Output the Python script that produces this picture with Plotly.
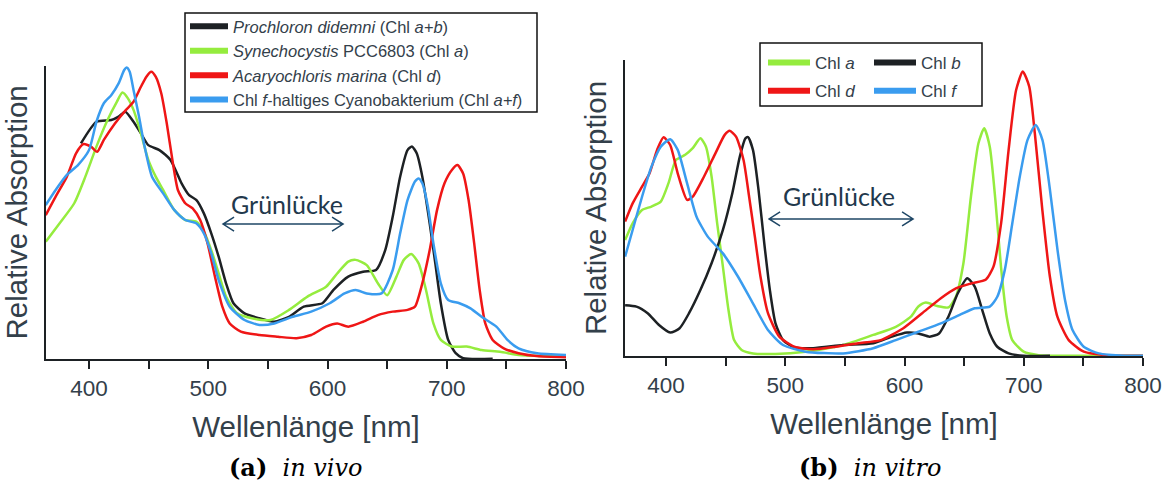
import plotly.graph_objects as go

# ---------------- data: (a) in vivo ----------------
prochloron_nm = [393.2, 406.2, 418.6, 424.8, 430.4, 437.3, 443.5, 449.7, 459.0, 468.3, 477.6, 483.9, 490.1, 496.3,
                 502.5, 508.7, 514.9, 521.1, 530.4, 542.9, 555.3, 567.7, 580.1, 595.7, 605.0, 617.4, 629.8, 640.7,
                 648.4, 654.7, 660.9, 667.1, 670.8, 674.8, 679.5, 685.7, 690.4, 695.0, 701.2, 707.5, 713.7, 738.5]
prochloron_abs = [74.6, 82.1, 82.7, 83.9, 85.6, 82.1, 78.1, 74.0, 72.3, 68.9, 60.8, 56.7, 55.0, 50.4,
                  43.5, 35.4, 26.2, 19.3, 15.8, 14.1, 12.9, 14.6, 18.1, 19.3, 23.9, 28.5, 30.2, 30.8,
                  37.7, 49.3, 63.1, 72.3, 73.5, 71.2, 63.1, 46.9, 33.1, 19.3, 6.6, 2.0, 0.3, 0.1]

synecho_nm = [363.7, 375.2, 387.6, 396.9, 406.2, 415.5, 423.3, 428.0, 432.6, 437.3, 443.5, 449.7, 455.9, 462.1,
              471.4, 480.7, 490.1, 496.3, 502.5, 508.7, 514.9, 524.2, 536.6, 552.2, 567.7, 583.2, 598.8, 608.1,
              617.4, 623.6, 632.9, 642.2, 650.0, 657.8, 664.0, 670.2, 676.4, 682.6, 688.8, 695.0, 704.3, 716.8,
              729.2, 744.7, 760.2, 778.9, 800.0]
synecho_abs = [40.6, 46.9, 53.9, 63.1, 73.5, 82.7, 89.0, 92.2, 90.2, 86.2, 78.1, 68.9, 63.1, 58.5,
               51.6, 48.1, 47.5, 44.1, 37.7, 29.6, 21.6, 15.8, 14.1, 13.5, 17.0, 21.6, 25.0, 29.6,
               33.7, 34.3, 32.5, 26.2, 22.1, 28.5, 34.3, 36.3, 33.1, 23.9, 12.3, 6.6, 4.3, 4.3,
               3.1, 2.5, 1.4, 1.0, 0.8]

acaryo_nm = [363.7, 372.0, 381.4, 389.1, 395.3, 401.6, 406.8, 412.4, 421.7, 431.0, 437.3, 443.5, 448.1, 452.2,
             455.9, 460.6, 465.2, 469.9, 474.5, 480.7, 486.9, 493.2, 499.4, 505.6, 511.8, 518.0, 527.3, 542.9,
             558.4, 574.0, 586.3, 598.8, 608.1, 617.4, 629.8, 642.2, 654.7, 667.1, 673.3, 679.5, 685.7, 691.9,
             698.1, 704.3, 709.0, 713.7, 718.3, 723.0, 727.6, 732.3, 738.5, 747.8, 760.2, 775.8, 800.0]
acaryo_abs = [49.8, 56.2, 63.1, 71.2, 74.4, 73.5, 71.7, 75.8, 81.5, 86.2, 89.0, 94.2, 97.7, 99.4,
              97.7, 91.9, 81.5, 68.9, 58.5, 53.9, 52.1, 48.1, 40.0, 28.5, 18.1, 12.3, 9.5, 8.3,
              7.7, 7.2, 8.3, 11.2, 12.3, 11.2, 12.9, 15.2, 16.4, 17.0, 18.1, 26.2, 37.7, 51.6,
              60.8, 65.4, 67.1, 64.2, 55.0, 40.0, 23.9, 12.3, 6.6, 3.7, 2.0, 1.0, 0.6]

chlf_bact_nm = [363.7, 372.0, 381.4, 390.7, 400.0, 406.2, 412.4, 418.6, 424.8, 429.5, 431.6, 434.1, 437.3, 441.9,
                446.6, 452.8, 462.1, 471.4, 480.7, 490.1, 496.3, 502.5, 508.7, 518.0, 530.4, 542.9, 555.3, 570.8,
                586.3, 601.9, 614.3, 623.6, 632.9, 645.3, 654.7, 660.9, 667.1, 673.3, 676.4, 679.5, 684.2, 688.8,
                695.0, 701.2, 710.6, 719.9, 729.2, 741.6, 750.9, 760.2, 775.8, 800.0]
chlf_bact_abs = [53.3, 58.5, 63.7, 67.1, 72.3, 82.1, 88.5, 91.3, 95.4, 100.0, 100.9, 99.4, 93.1, 83.9,
                 73.5, 63.1, 57.3, 51.6, 48.1, 46.9, 43.5, 36.6, 27.3, 18.1, 13.5, 11.8, 12.3, 14.6,
                 16.4, 19.3, 22.7, 23.9, 22.7, 22.7, 30.8, 43.5, 55.0, 61.4, 62.5, 60.8, 52.7, 40.0,
                 26.2, 20.4, 19.3, 17.5, 14.6, 11.2, 6.6, 3.7, 2.0, 1.4]

# ---------------- data: (b) in vitro ----------------
chla_nm = [365.7, 372.0, 379.9, 387.8, 395.6, 402.0, 408.3, 416.1, 422.4, 428.8, 433.5, 438.2, 442.9, 447.7,
           452.4, 457.1, 463.4, 472.9, 491.8, 517.0, 548.5, 573.8, 592.7, 605.3, 611.6, 617.9, 627.4, 636.8,
           643.1, 649.4, 655.7, 662.0, 666.8, 671.5, 676.2, 680.9, 685.7, 690.4, 699.9, 712.5, 737.7, 800.0]
chla_abs = [40.1, 45.9, 50.5, 51.7, 53.4, 59.7, 67.8, 69.6, 71.9, 75.3, 72.4, 62.1, 45.9, 30.9,
            15.9, 5.5, 2.1, 0.9, 0.7, 1.5, 3.8, 7.3, 10.1, 13.6, 17.1, 18.5, 17.3, 16.8,
            20.5, 32.1, 55.1, 73.6, 78.8, 72.4, 54.0, 30.9, 13.6, 5.5, 1.5, 0.3, 0.1, 0.1]

chlb_nm = [365.7, 375.2, 384.6, 394.1, 403.5, 411.4, 419.3, 428.8, 438.2, 447.7, 455.6, 461.9, 466.6, 468.8,
           472.9, 477.6, 482.4, 487.1, 491.8, 498.1, 507.6, 523.4, 548.5, 573.8, 589.5, 602.1, 611.6, 621.1,
           629.0, 636.8, 644.7, 652.6, 658.9, 665.2, 671.5, 677.8, 687.3, 699.9, 722.0]
chlb_abs = [17.6, 17.1, 14.8, 10.7, 8.1, 9.6, 14.8, 22.8, 32.1, 43.6, 56.3, 69.0, 75.3, 75.7,
            71.3, 57.4, 39.0, 22.8, 11.3, 5.5, 3.0, 2.7, 3.8, 4.4, 6.7, 8.1, 7.8, 6.7,
            7.8, 13.6, 21.7, 26.9, 24.0, 15.9, 7.8, 3.2, 0.9, 0.1, 0.1]

chld_nm = [365.7, 372.0, 379.9, 386.2, 392.5, 397.9, 403.5, 409.8, 417.7, 422.4, 431.9, 441.4, 449.2, 453.4,
           458.7, 465.0, 469.7, 474.5, 479.2, 485.5, 495.0, 507.6, 523.4, 542.3, 561.2, 580.1, 599.0, 614.8,
           630.5, 643.1, 655.7, 668.3, 674.6, 681.0, 687.3, 693.6, 699.2, 704.6, 709.3, 715.6, 721.9, 728.2,
           737.7, 750.3, 769.2, 800.0]
chld_abs = [46.5, 52.8, 58.6, 63.2, 71.3, 75.7, 73.0, 63.2, 54.0, 55.1, 62.1, 70.1, 76.5, 77.9,
            75.9, 67.8, 55.1, 41.3, 27.5, 14.8, 6.7, 3.2, 2.3, 3.2, 4.4, 5.5, 9.6, 14.8,
            20.0, 23.4, 25.1, 26.5, 30.9, 45.9, 71.3, 92.0, 98.4, 93.2, 77.0, 50.5, 27.5, 13.6,
            5.5, 1.5, 0.3, 0.1]

chlf_nm = [365.7, 372.0, 379.9, 387.8, 395.6, 403.5, 409.8, 417.7, 425.6, 435.0, 447.7, 460.3, 472.9, 485.5,
           498.1, 517.0, 548.5, 573.8, 592.7, 611.6, 630.5, 646.3, 658.9, 671.5, 677.8, 684.1, 690.4, 696.7,
           703.1, 710.0, 715.7, 722.0, 728.3, 734.6, 740.9, 750.3, 762.9, 785.0, 800.0]
chlf_abs = [34.4, 43.6, 55.1, 65.5, 72.4, 75.0, 71.3, 59.7, 48.2, 41.3, 35.5, 27.5, 18.2, 9.0,
            3.8, 1.5, 0.9, 2.7, 5.5, 8.4, 11.3, 14.2, 16.5, 17.1, 20.5, 29.8, 45.9, 62.1,
            74.7, 79.9, 74.7, 57.4, 36.7, 19.4, 9.0, 3.2, 0.9, 0.1, 0.1]

tick_vals = [400, 450, 500, 550, 600, 650, 700, 750, 800]
tick_text = ["400", "", "500", "", "600", "", "700", "", "800"]

names_a = ["<i>Prochloron didemni</i> (Chl <i>a+b</i>)",
           "<i>Synechocystis</i> PCC6803 (Chl <i>a</i>)",
           "<i>Acaryochloris marina</i> (Chl <i>d</i>)",
           "Chl <i>f</i>-haltiges Cyanobakterium (Chl <i>a+f</i>)"]
names_b = ["Chl <i>a</i>", "Chl <i>b</i>", "Chl <i>d</i>", "Chl <i>f</i>"]

BLACK = "#1d2124"
GREEN = "#95ec3e"
RED = "#ef1616"
BLUE = "#3a9cef"
TXT = "#33404a"

W, H = 1169, 486
fig = go.Figure()

series_a = [(prochloron_nm, prochloron_abs, BLACK), (synecho_nm, synecho_abs, GREEN),
            (acaryo_nm, acaryo_abs, RED), (chlf_bact_nm, chlf_bact_abs, BLUE)]
for i, (x, y, c) in enumerate(series_a):
    fig.add_trace(go.Scatter(x=x, y=y, mode="lines", line=dict(color=c, width=2.5, shape="spline", smoothing=0.6),
                             xaxis="x", yaxis="y", showlegend=False, hoverinfo="skip"))
for i, (x, y, c) in enumerate(series_a):
    fig.add_trace(go.Scatter(x=[None], y=[None], mode="lines", line=dict(color=c, width=6),
                             name=names_a[i], legend="legend", legendgroup="a%d" % i,
                             xaxis="x", yaxis="y"))

series_b = [(chla_nm, chla_abs, GREEN), (chlb_nm, chlb_abs, BLACK),
            (chld_nm, chld_abs, RED), (chlf_nm, chlf_abs, BLUE)]
for i, (x, y, c) in enumerate(series_b):
    fig.add_trace(go.Scatter(x=x, y=y, mode="lines", line=dict(color=c, width=2.5, shape="spline", smoothing=0.6),
                             xaxis="x2", yaxis="y2", showlegend=False, hoverinfo="skip"))
legend_cols = ["legend2", "legend3", "legend2", "legend3"]
for i, (x, y, c) in enumerate(series_b):
    fig.add_trace(go.Scatter(x=[None], y=[None], mode="lines", line=dict(color=c, width=6),
                             name=names_b[i], legend=legend_cols[i], legendgroup="b%d" % i,
                             xaxis="x2", yaxis="y2"))

axis_font = dict(family="Liberation Sans, Arial", size=22.5, color=TXT)
title_font = dict(family="Liberation Sans, Arial", size=29.5, color=TXT)

def xax(domain, rng, anchor):
    return dict(domain=domain, range=rng, anchor=anchor, automargin=False,
                showline=True, linecolor=BLACK, linewidth=2,
                ticks="outside", ticklen=8, tickwidth=2, tickcolor=BLACK, tickmode="array",
                tickvals=tick_vals, ticktext=tick_text, tickfont=axis_font, ticklabelstandoff=0,
                showgrid=False, zeroline=False,
                title=dict(text="Wellenlänge [nm]", font=title_font, standoff=16))

def yax(domain, rng, anchor, standoff):
    return dict(domain=domain, range=rng, anchor=anchor, automargin=False,
                showline=True, linecolor=BLACK, linewidth=2,
                ticks="", showticklabels=False, showgrid=False, zeroline=False,
                title=dict(text="Relative Absorption", font=title_font, standoff=standoff))

legend_font_a = dict(family="Liberation Sans, Arial", size=16.5, color=TXT)
legend_font_b = dict(family="Liberation Sans, Arial", size=17, color=TXT)
fig.update_layout(
    template="none",
    width=W, height=H, margin=dict(l=0, r=0, t=0, b=0, pad=0),
    paper_bgcolor="white", plot_bgcolor="white",
    xaxis=xax([46 / W, 566 / W], [363.9, 800], "y"),
    yaxis=yax([1 - 359 / H, 1 - 65.7 / H], [0, 101.5], "x", 12),
    xaxis2=xax([625 / W, 1143 / W], [365.6, 800], "y2"),
    yaxis2=yax([1 - 356 / H, 1 - 60 / H], [0, 102.4], "x2", 8),
    legend=dict(x=185 / W, y=1 - 9 / H, xanchor="left", yanchor="top", bgcolor="rgba(0,0,0,0)",
                borderwidth=0, tracegroupgap=0, itemwidth=38, font=legend_font_a),
    legend2=dict(x=763 / W, y=1 - 45 / H, xanchor="left", yanchor="top", bgcolor="rgba(0,0,0,0)",
                 borderwidth=0, tracegroupgap=3, itemwidth=42, font=legend_font_b),
    legend3=dict(x=869 / W, y=1 - 45 / H, xanchor="left", yanchor="top", bgcolor="rgba(0,0,0,0)",
                 borderwidth=0, tracegroupgap=3, itemwidth=42, font=legend_font_b),
    showlegend=True,
)

# boxes around the legends
fig.add_shape(type="rect", xref="paper", yref="paper", x0=185 / W, x1=537 / W, y0=1 - 112 / H, y1=1 - 13 / H,
              line=dict(color="#111111", width=1.5), fillcolor="white", layer="above")
fig.add_shape(type="rect", xref="paper", yref="paper", x0=760 / W, x1=982 / W, y0=1 - 106 / H, y1=1 - 43 / H,
              line=dict(color="#111111", width=1.5), fillcolor="rgba(0,0,0,0)", layer="above")

# Grünlücke double arrows
gap_a = dict(x=562.7, y=46.7, half=60)
gap_b = dict(x=546.8, y=47.4, half=72)
ARROW = "#1f4766"
for g, xr, yr in [(gap_a, "x", "y"), (gap_b, "x2", "y2")]:
    h = g["half"]
    path = (f"M{-h},0 L{h},0 M{-h + 11},7 L{-h},0 L{-h + 11},-7 "
            f"M{h - 11},7 L{h},0 L{h - 11},-7")
    fig.add_shape(type="path", xref=xr, yref=yr, xsizemode="pixel", ysizemode="pixel",
                  xanchor=g["x"], yanchor=g["y"], path=path, line=dict(color=ARROW, width=1.5))

gap_font = dict(family="Lato, Open Sans", size=25, color="#22384c")
fig.add_annotation(text="Grünlücke", xref="paper", yref="paper", x=287 / W, y=1 - 204 / H,
                   xanchor="center", yanchor="middle", showarrow=False, font=gap_font)
fig.add_annotation(text="Grünlücke", xref="paper", yref="paper", x=839 / W, y=1 - 196 / H,
                   xanchor="center", yanchor="middle", showarrow=False, font=gap_font)

cap_font = dict(family="DejaVu Serif, Liberation Serif", size=24, color="black")
fig.add_annotation(text="<b>(a)</b>  <i>in vivo</i>", xref="paper", yref="paper", x=296 / W, y=1 - 467 / H,
                   xanchor="center", yanchor="middle", showarrow=False, font=cap_font)
fig.add_annotation(text="<b>(b)</b>  <i>in vitro</i>", xref="paper", yref="paper", x=870 / W, y=1 - 467 / H,
                   xanchor="center", yanchor="middle", showarrow=False, font=cap_font)

fig.write_html("out.html", config={"displayModeBar": False},
               post_script="document.body.style.margin='0px';")
